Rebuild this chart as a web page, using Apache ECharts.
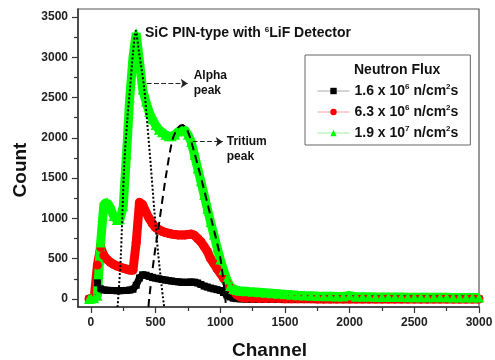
<!DOCTYPE html>
<html>
<head>
<meta charset="utf-8">
<script src="https://cdn.jsdelivr.net/npm/echarts@6/dist/echarts.min.js"></script>
<style>
  html, body { margin: 0; padding: 0; background: #fff; }
  #main { width: 495px; height: 360px; }
</style>
</head>
<body>
<div id="main"></div>
<script>
// channel positions shared by the three spectra
let channels = [-15, 0, 25, 50, 75, 100, 125, 150, 175, 200,
  225, 250, 275, 300, 325, 350, 375, 400, 425, 450,
  475, 500, 525, 550, 575, 600, 625, 650, 675, 700,
  725, 750, 775, 800, 825, 850, 875, 900, 925, 950,
  975, 1000, 1025, 1050, 1075, 1100, 1125, 1150, 1175, 1200,
  1250, 1300, 1350, 1400, 1450, 1500, 1550, 1600, 1650, 1700,
  1750, 1800, 1850, 1900, 1950, 2000, 2050, 2100, 2150, 2200,
  2250, 2300, 2350, 2400, 2450, 2500, 2550, 2600, 2650, 2700,
  2750, 2800, 2850, 2900, 2950, 3000]

// 1.6 x 10^6 n/cm2s
let countLow = [0, 0, 0, 200, 125, 112, 108, 106, 104, 103,
  103, 104, 106, 110, 120, 170, 260, 300, 295, 280,
  268, 258, 250, 242, 235, 228, 222, 216, 212, 208,
  206, 207, 210, 208, 198, 180, 160, 148, 135, 125,
  115, 105, 80, 50, 25, 10, 4, 2, 1, 0,
  0, 0, 0, 0, 0, 0, 0, 0, 0, 0,
  0, 0, 0, 0, 0, 0, 0, 0, 0, 0,
  0, 0, 0, 0, 0, 0, 0, 0, 0, 0,
  0, 0, 0, 0, 0, 0]

// 6.3 x 10^6 n/cm2s
let countMid = [0, 0, 10, 420, 640, 540, 490, 455, 430, 410,
  395, 382, 370, 358, 355, 700, 1200, 1170, 1080, 1000,
  935, 885, 860, 840, 825, 815, 805, 800, 795, 795,
  795, 800, 805, 790, 750, 710, 650, 590, 500, 440,
  375, 320, 260, 200, 140, 95, 50, 25, 15, 10,
  8, 7, 6, 5, 4, 3, 2, 2, 1, 1,
  0, 0, 0, 0, 0, 0, 0, 0, 0, 0,
  0, 0, 0, 0, 0, 0, 0, 0, 0, 0,
  0, 0, 0, 0, 0, 0]

// 1.9 x 10^7 n/cm2s
let countHigh = [0, 5, 10, 40, 700, 1180, 1200, 1130, 1030, 980,
  990, 1150, 1800, 2500, 3000, 3300, 2950, 2600, 2450, 2320,
  2230, 2160, 2100, 2070, 2040, 2020, 2020, 2040, 2080, 2100,
  2100, 2040, 1950, 1790, 1620, 1460, 1290, 1120, 955, 800,
  640, 490, 360, 240, 160, 125, 110, 102, 98, 95,
  88, 82, 76, 70, 64, 58, 53, 47, 43, 40,
  37, 35, 33, 31, 30, 42, 28, 27, 26, 25,
  24, 24, 23, 23, 22, 22, 21, 21, 20, 20,
  20, 19, 19, 18, 18, 18]

// fitted peaks [channel, count]
let alphaFit = [[206, -100], [230, 500], [257, 1650], [280, 2200], [303, 2630], [325, 3050], [347, 3330],
  [370, 3080], [390, 2870], [411, 2630], [437, 2150], [463, 1650], [490, 1100], [520, 560], [545, 180], [566, -100]]
let tritiumFit = [[445, -100], [450, 0], [489, 525], [527, 940], [579, 1517], [630, 1973], [670, 2120], [707, 2160],
  [740, 2110], [772, 1973], [849, 1517], [938, 940], [1003, 484], [1045, -100]]

let seriesNames = ['1.6e6', '6.3e6', '1.9e7']
let legendLabels = ['1.6 x 10{sup|6} n/cm{sup|2}s', '6.3 x 10{sup|6} n/cm{sup|2}s', '1.9 x 10{sup|7} n/cm{sup|2}s']
let xMajor = [0, 500, 1000, 1500, 2000, 2500, 3000]
let xMinor = [250, 750, 1250, 1750, 2250, 2750]
let yMajor = [0, 500, 1000, 1500, 2000, 2500, 3000, 3500]
let yMinor = [250, 750, 1250, 1750, 2250, 2750, 3250]

let font = 'Liberation Sans, Arial, sans-serif'
let sup = { fontSize: 8, fontWeight: 'bold', fontFamily: font, verticalAlign: 'top', lineHeight: 8, color: '#111' }

let pairs = (ys) => channels.map((c, i) => [c, ys[i]])

let spectrum = (name, ys, symbol, color, size, width) => ({
  name: name,
  type: 'line',
  data: pairs(ys),
  symbol: symbol,
  symbolSize: size,
  itemStyle: { color: color },
  lineStyle: { color: color, width: width },
  z: 3
})

let chartDom = document.getElementById('main')
let myChart = echarts.init(chartDom)

let option = {
  animation: false,
  backgroundColor: '#fff',
  title: [
    {
      text: 'SiC PIN-type with {sup|6}LiF Detector',
      left: 140, top: 21,
      textStyle: { fontSize: 14, fontWeight: 'bold', fontFamily: font, color: '#111', rich: { sup: sup } },
      z: 10
    },
    {
      text: 'Neutron Flux',
      left: 349, top: 58,
      textStyle: { fontSize: 14, fontWeight: 'bold', fontFamily: font, color: '#111' },
      z: 10
    }
  ],
  grid: { left: 78, right: 16, top: 9, bottom: 53, containLabel: false, outerBoundsMode: 'none',
    show: true, borderColor: '#555', borderWidth: 1.2 },
  legend: {
    orient: 'vertical',
    left: 305, top: 55,
    padding: [28, 12, 4, 12],
    backgroundColor: '#fff',
    borderColor: '#666',
    borderWidth: 1,
    itemWidth: 32, itemHeight: 8, itemGap: 5,
    formatter: (name) => legendLabels[seriesNames.indexOf(name)],
    textStyle: { fontSize: 14, fontWeight: 'bold', fontFamily: font, color: '#111', lineHeight: 16, rich: { sup: sup } },
    data: [
      { name: seriesNames[0], lineStyle: { color: '#aaa', width: 1 }, itemStyle: { color: '#000' } },
      { name: seriesNames[1], lineStyle: { color: '#f9a0a0', width: 1 }, itemStyle: { color: '#f00' } },
      { name: seriesNames[2], lineStyle: { color: '#a0f0a0', width: 1 }, itemStyle: { color: '#0f0' } }
    ]
  },
  xAxis: [
    {
      type: 'value', min: -100, max: 3000, position: 'bottom',
      name: 'Channel', nameLocation: 'middle', nameGap: 34,
      nameTextStyle: { fontSize: 19, fontWeight: 'bold', fontFamily: font, color: '#111', padding: [0, 18, 0, 0] },
      axisLine: { onZero: false, lineStyle: { color: '#333', width: 1.5 } },
      axisTick: { customValues: xMajor, length: 6, lineStyle: { color: '#333', width: 1.2 } },
      axisLabel: { customValues: xMajor, formatter: (v) => String(v), margin: 10, fontSize: 12, fontWeight: 'bold', fontFamily: font, color: '#222' },
      splitLine: { show: false }
    },
    {
      type: 'value', min: -100, max: 3000, position: 'bottom',
      axisLine: { show: false, onZero: false },
      axisTick: { customValues: xMinor, length: 4, lineStyle: { color: '#333', width: 1.2 } },
      axisLabel: { show: false },
      splitLine: { show: false }
    }
  ],
  yAxis: [
    {
      type: 'value', min: -100, max: 3600, position: 'left',
      name: 'Count', nameLocation: 'middle', nameGap: 40, nameRotate: 90,
      nameTextStyle: { fontSize: 19, fontWeight: 'bold', fontFamily: font, color: '#111', padding: [0, 24, 0, 0] },
      axisLine: { onZero: false, lineStyle: { color: '#333', width: 1.5 } },
      axisTick: { customValues: yMajor, length: 6, lineStyle: { color: '#333', width: 1.2 } },
      axisLabel: { customValues: yMajor, formatter: (v) => String(v), margin: 10, fontSize: 12, fontWeight: 'bold', fontFamily: font, color: '#222' },
      splitLine: { show: false }
    },
    {
      type: 'value', min: -100, max: 3600, position: 'left',
      axisLine: { show: false, onZero: false },
      axisTick: { customValues: yMinor, length: 4, lineStyle: { color: '#333', width: 1.2 } },
      axisLabel: { show: false },
      splitLine: { show: false }
    }
  ],
  series: [
    spectrum(seriesNames[0], countLow, 'rect', '#000', 7, 7),
    spectrum(seriesNames[1], countMid, 'circle', '#f00', 9, 9),
    spectrum(seriesNames[2], countHigh, 'triangle', '#0f0', 10, 9),
    {
      name: 'alpha fit',
      type: 'line',
      data: alphaFit,
      smooth: 0.3,
      showSymbol: false,
      lineStyle: { color: '#000', width: 2, type: 'dotted' },
      z: 5,
      markLine: {
        silent: true,
        symbol: ['none', 'arrow'],
        symbolSize: 7,
        lineStyle: { color: '#222', width: 1.2, type: 'dashed' },
        label: { show: true, position: 'end', distance: 6, formatter: 'Alpha\npeak', lineHeight: 15,
          fontSize: 12, fontWeight: 'bold', fontFamily: font, color: '#111' },
        data: [[{ coord: [432, 2676] }, { coord: [748, 2676] }]]
      }
    },
    {
      name: 'tritium fit',
      type: 'line',
      data: tritiumFit,
      smooth: 0.3,
      showSymbol: false,
      lineStyle: { color: '#000', width: 2, type: [8, 5] },
      z: 5,
      markLine: {
        silent: true,
        symbol: ['none', 'arrow'],
        symbolSize: 7,
        lineStyle: { color: '#222', width: 1.2, type: 'dashed' },
        label: { show: true, position: 'end', distance: 4, formatter: '\nTritium\npeak', lineHeight: 15,
          fontSize: 12, fontWeight: 'bold', fontFamily: font, color: '#111' },
        data: [[{ coord: [787, 1952] }, { coord: [1019, 1952] }]]
      }
    }
  ]
}

option && myChart.setOption(option)
</script>
</body>
</html>
